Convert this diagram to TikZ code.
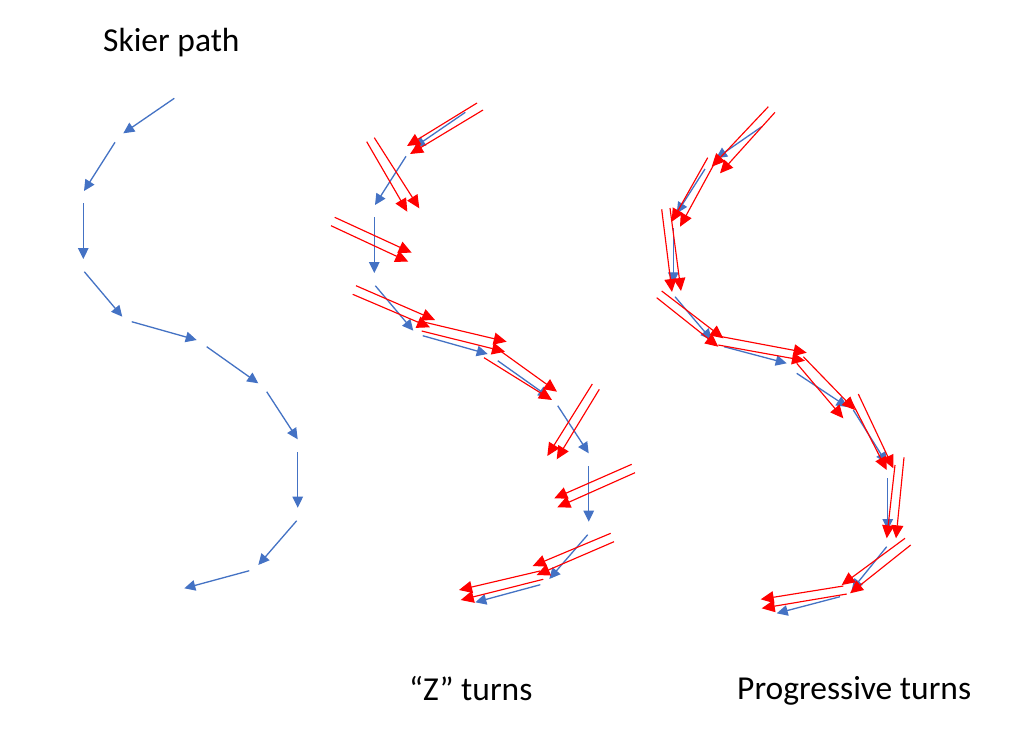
\documentclass[tikz,border=0pt]{standalone}
\usepackage{fontspec}
\setmainfont{Carlito}
\usetikzlibrary{arrows.meta}
\definecolor{pathblue}{HTML}{4472C4}
\definecolor{skired}{HTML}{FF0000}
\tikzset{
  skierarrow/.style={draw=pathblue, line width=1.3pt, -{Triangle[length=11pt,width=10.5pt]}},
  skiarrow/.style={draw=skired, line width=1.15pt, -{Triangle[length=13pt,width=12pt]}},
  caption/.style={font=\fontsize{33.5}{40}\selectfont, inner sep=0pt, anchor=base west}
}
\begin{document}
\begin{tikzpicture}[x=1pt,y=-1pt]
\useasboundingbox[fill=white] (0,0) rectangle (1024,732);

% captions
\node[caption] (t1) at (103,51) {Skier path};
\node[caption] (t2) at (409,700) {“Z” turns};
\node[caption] (t3) at (737,699) {Progressive turns};

% left: skier path
\begin{scope}
\draw[skierarrow] (174.3,98.3) -- (123.3,133.3);
\draw[skierarrow] (115,142.3) -- (84,191);
\draw[skierarrow] (83.3,203.3) -- (83.3,259);
\draw[skierarrow] (84.3,271.7) -- (122.3,316.7);
\draw[skierarrow] (131.7,321.7) -- (196.7,340);
\draw[skierarrow] (206.7,346.7) -- (258.3,383.3);
\draw[skierarrow] (266.7,391.7) -- (297.7,439.3);
\draw[skierarrow] (297.7,452.3) -- (297.7,507.7);
\draw[skierarrow] (296.7,520.7) -- (258.3,565);
\draw[skierarrow] (249.3,570.7) -- (184.3,588.3);
\end{scope}

% middle: Z turns, path
\begin{scope}[shift={(291,14)}]
\draw[skierarrow] (174.3,98.3) -- (123.3,133.3);
\draw[skierarrow] (115,142.3) -- (84,191);
\draw[skierarrow] (83.3,203.3) -- (83.3,259);
\draw[skierarrow] (84.3,271.7) -- (122.3,316.7);
\draw[skierarrow] (131.7,321.7) -- (196.7,340);
\draw[skierarrow] (206.7,346.7) -- (258.3,383.3);
\draw[skierarrow] (266.7,391.7) -- (297.7,439.3);
\draw[skierarrow] (297.7,452.3) -- (297.7,507.7);
\draw[skierarrow] (296.7,520.7) -- (258.3,565);
\draw[skierarrow] (249.3,570.7) -- (184.3,588.3);
\end{scope}

% middle: Z turns, skis
\draw[skiarrow] (477,103) -- (407,146);
\draw[skiarrow] (483,110) -- (410,154);
\draw[skiarrow] (366.7,141.7) -- (407.3,211.7);
\draw[skiarrow] (374.3,137.7) -- (419.3,208.3);
\draw[skiarrow] (334.7,217.3) -- (411.7,252.7);
\draw[skiarrow] (331,225.7) -- (408.3,261.7);
\draw[skiarrow] (356,285.7) -- (435,320);
\draw[skiarrow] (352.7,294.3) -- (430,327.3);
\draw[skiarrow] (425,322.3) -- (506.7,341.7);
\draw[skiarrow] (421.7,331) -- (505,351.7);
\draw[skiarrow] (496.7,348.3) -- (557,391.7);
\draw[skiarrow] (484,357.7) -- (552,400);
\draw[skiarrow] (592.3,384) -- (547.3,456);
\draw[skiarrow] (599.3,389.3) -- (556.7,459.3);
\draw[skiarrow] (631.7,464.3) -- (554.3,498.3);
\draw[skiarrow] (635,472.7) -- (557.3,507.3);
\draw[skiarrow] (610.7,533.3) -- (532.7,566);
\draw[skiarrow] (614,541.7) -- (536.7,575);
\draw[skiarrow] (540,571) -- (459,590);
\draw[skiarrow] (543.3,579.3) -- (460.7,600);

% right: progressive turns, path
\draw[skierarrow] (761.7,126.7) -- (716,158.3);
\draw[skierarrow] (705,169) -- (676.7,213.3);
\draw[skierarrow] (673.3,228.3) -- (673.3,283.3);
\draw[skierarrow] (675,296.7) -- (711.7,340);
\draw[skierarrow] (724,346.7) -- (786.7,363.3);
\draw[skierarrow] (796.7,373.3) -- (847.5,407);
\draw[skierarrow] (853.3,410) -- (886.7,463.3);
\draw[skierarrow] (887.7,478.3) -- (887.7,530);
\draw[skierarrow] (886.7,546.7) -- (851.7,590);
\draw[skierarrow] (840,596.7) -- (776.7,613.3);

% right: progressive turns, skis
\draw[skiarrow] (768.3,106.7) -- (711.7,166.7);
\draw[skiarrow] (775,112.3) -- (720,173.3);
\draw[skiarrow] (707.7,157.7) -- (671.7,221.7);
\draw[skiarrow] (715,162.3) -- (680,226.7);
\draw[skiarrow] (661.7,209.3) -- (672,292);
\draw[skiarrow] (670,208) -- (681,291);
\draw[skiarrow] (661.7,291) -- (723.3,338.3);
\draw[skiarrow] (656.7,297.7) -- (718.3,346.7);
\draw[skiarrow] (721.7,336.7) -- (806.7,352.7);
\draw[skiarrow] (718.3,345) -- (805,360.7);
\draw[skiarrow] (803.3,356.7) -- (855,410);
\draw[skiarrow] (796.7,363.3) -- (843.3,418.3);
\draw[skiarrow] (850,398.3) -- (886.7,470);
\draw[skiarrow] (858.3,394) -- (893.3,468.3);
\draw[skiarrow] (895,465) -- (886.7,538.3);
\draw[skiarrow] (904,457.3) -- (896,538.3);
\draw[skiarrow] (905,538.3) -- (841.7,585);
\draw[skiarrow] (910.7,545) -- (850,593.3);
\draw[skiarrow] (843.3,586) -- (760.7,599.3);
\draw[skiarrow] (846.7,594) -- (761.7,608.3);
\end{tikzpicture}
\end{document}
